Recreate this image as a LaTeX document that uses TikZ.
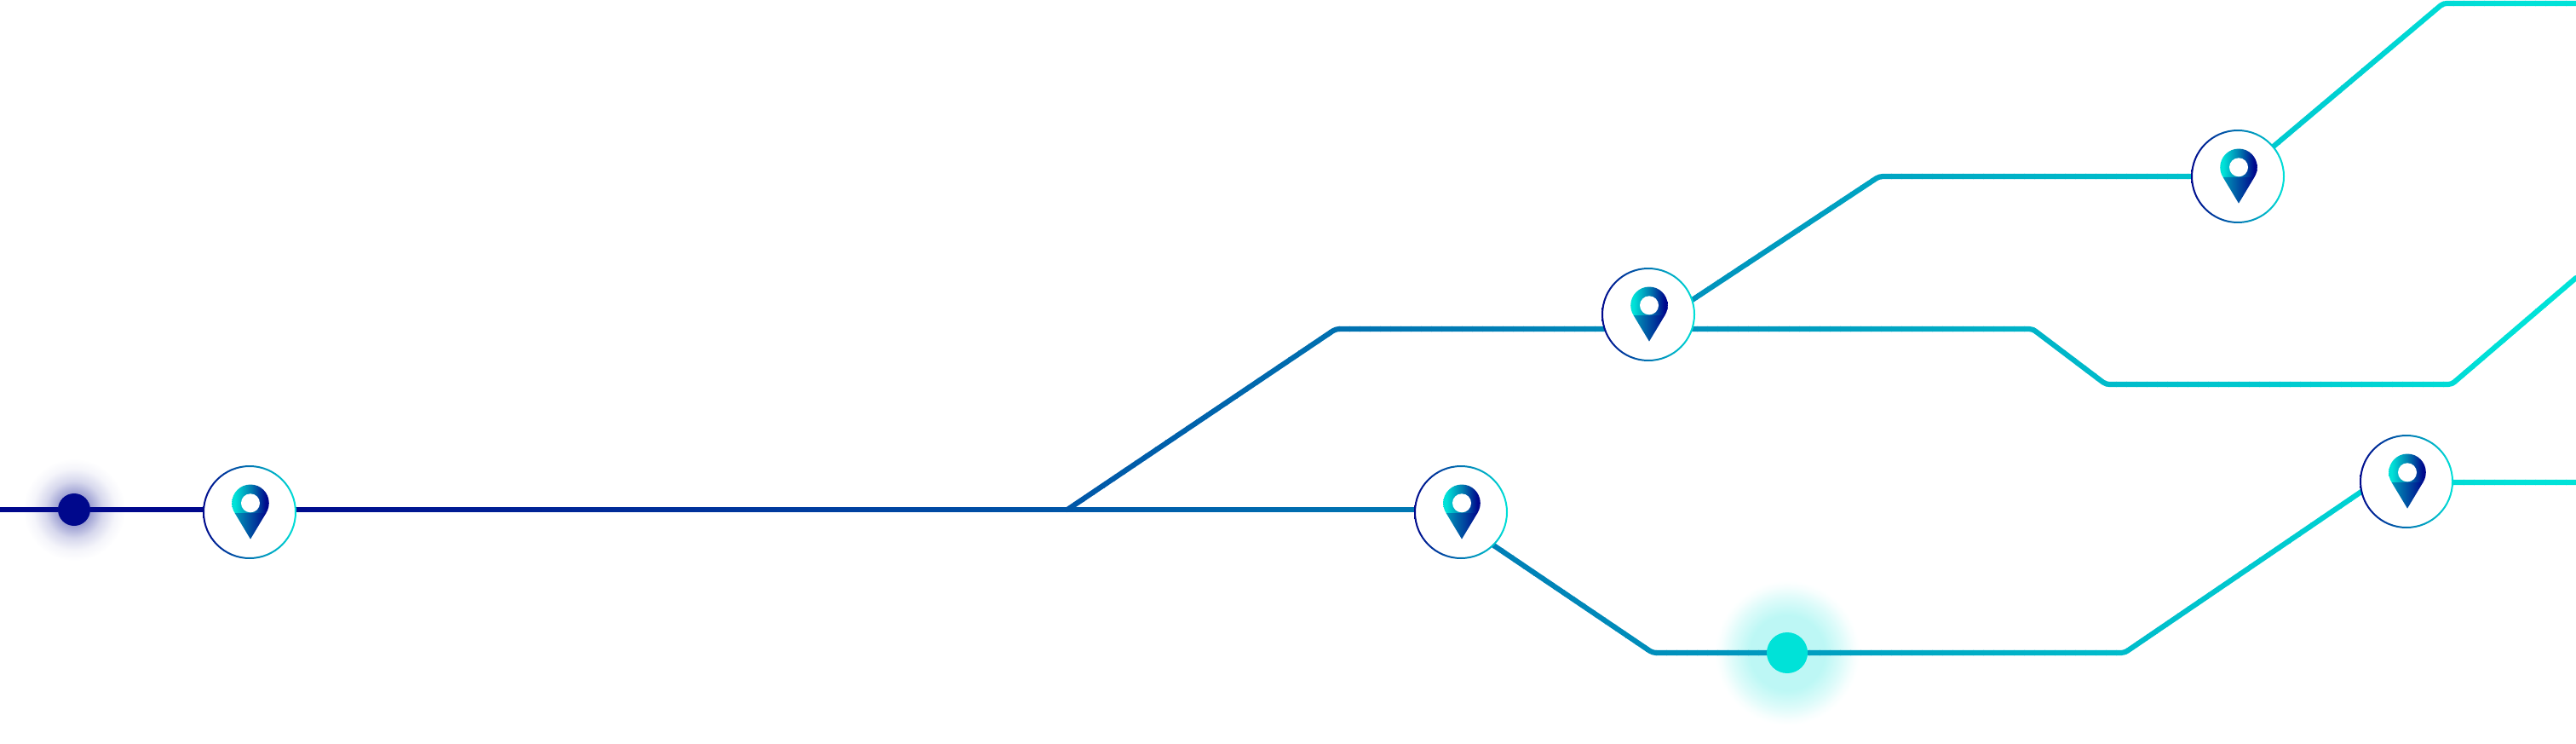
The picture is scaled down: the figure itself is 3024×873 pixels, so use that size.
\documentclass[tikz,border=0pt]{standalone}
\usepackage{tikz}
\definecolor{navy}{RGB}{0,8,140}
\definecolor{aqua}{RGB}{0,226,216}
\definecolor{teal}{RGB}{0,150,184}
\pgfdeclareradialshading{glownavy}{\pgfpoint{0bp}{0bp}}{color(0bp)=(navy!40!white); color(8bp)=(navy!38!white); color(14bp)=(navy!16!white); color(20bp)=(navy!4!white); color(25bp)=(white); color(50bp)=(white)}
\pgfdeclareradialshading{glowaqua}{\pgfpoint{0bp}{0bp}}{color(0bp)=(aqua!26!white); color(13bp)=(aqua!26!white); color(19bp)=(aqua!13!white); color(23bp)=(aqua!3!white); color(25bp)=(white); color(50bp)=(white)}
\pgfdeclarehorizontalshading{pinhead}{100bp}{color(0bp)=(aqua); color(29bp)=(aqua); color(50bp)=(teal!85!navy); color(71bp)=(navy); color(100bp)=(navy)}
\begin{document}
\begin{tikzpicture}[line cap=round,line join=round,x=0.01cm,y=-0.01cm,
    stop/.style={circle, inner sep=0pt, minimum size=0.38cm},
    route/.style={line width=1.75pt, rounded corners=0.04cm},
    pinmark/.pic={
        \fill[white] (0,0) circle (54);
        \shade[left color=navy, right color=aqua, even odd rule] (0,0) circle (55) circle (53);
        \begin{scope}
            \clip (-30,-40) rectangle (32,1);
            \shade[shading=pinhead] (1,-10.7) circle (21.8);
        \end{scope}
        \shade[left color=teal, right color=navy] (-17.4,1) -- (19.4,1) -- (1,31.6) -- cycle;
        \fill[white] (1,-10.7) circle (11);
    }]
    \useasboundingbox (0,0) rectangle (3024,873);

    \node[stop] (dotA) at (87,598) {};
    \node[stop] (dotB) at (2098,766) {};
    \node[stop] (pinA) at (293,601) {};
    \node[stop] (pinB) at (2627,207) {};
    \node[stop] (pinC) at (1935,369) {};
    \node[stop] (pinD) at (1715,601) {};
    \node[stop] (pinE) at (2825,565) {};

    \coordinate (start) at (0,598);
    \coordinate (fork) at (1253,598);
    \coordinate (bendA) at (1568,386);
    \coordinate (bendB) at (2386,386);
    \coordinate (bendC) at (2472,451);
    \coordinate (bendD) at (2878,451);
    \coordinate (endA) at (3024,326);
    \coordinate (bendE) at (2206,207);
    \coordinate (bendF) at (2868,4);
    \coordinate (endB) at (3024,4);
    \coordinate (outD) at (1715,614);
    \coordinate (bendG) at (1940,766);
    \coordinate (bendH) at (2494,766);
    \coordinate (bendI) at (2788,566);
    \coordinate (endC) at (3024,566);

    \shade[shading=glownavy] (dotA) circle (60);
    \shade[shading=glowaqua] (dotB) circle (85);

    % one clipped strip per colour step
    \foreach \x in {0,12,...,3012} {
        \pgfmathsetmacro{\pct}{min(100,max(0,(\x-300)/26.5))}
        \begin{scope}
            \clip (\x,0) rectangle (\x+13,873);
            \begin{scope}[route, draw=aqua!\pct!navy]
                \draw (start) -- (dotA);
                \draw (dotA) -- (pinA |- fork) -- (fork) -- (pinD |- fork);
                \draw (fork) -- (bendA) -- (pinC |- bendA) -- (bendB) -- (bendC) -- (bendD) -- (endA);
                \draw (pinC |- bendA) -- (bendE) -- (pinB.center) -- (bendF) -- (endB);
                \draw (outD) -- (bendG) -- (dotB);
                \draw (dotB) -- (bendH) -- (bendI) -- (endC);
            \end{scope}
        \end{scope}
    }

    \fill[navy] (dotA) circle (19);
    \fill[aqua] (dotB) circle (24);

    \pic at (pinA) {pinmark};
    \pic at (pinB) {pinmark};
    \pic at (pinC) {pinmark};
    \pic at (pinD) {pinmark};
    \pic at (pinE) {pinmark};
\end{tikzpicture}
\end{document}
